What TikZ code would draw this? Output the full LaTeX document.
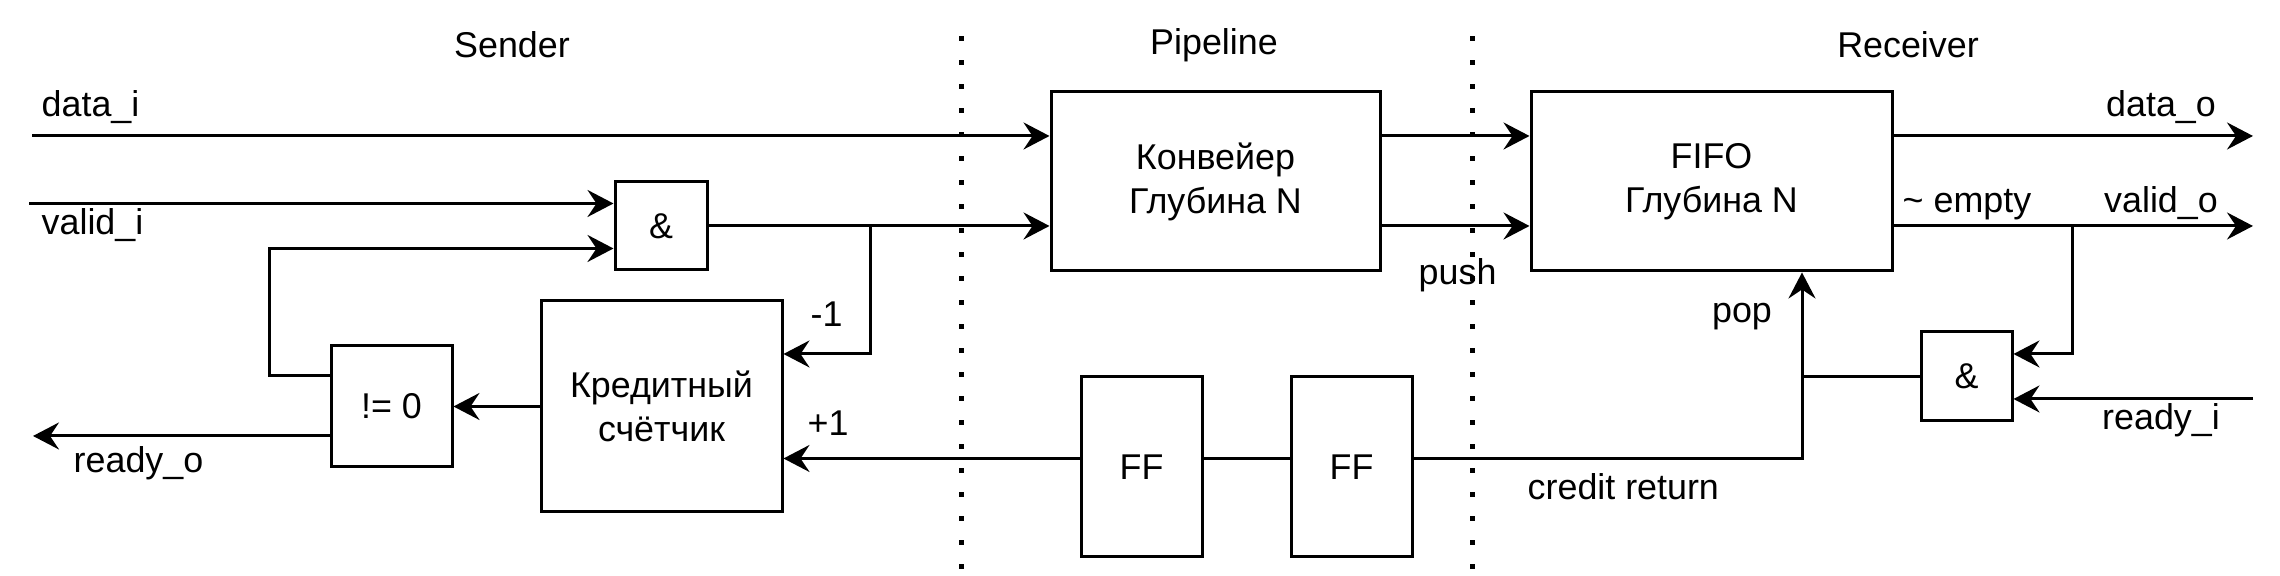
\documentclass[tikz,border=0pt]{standalone}
\usepackage{fontspec}
\setmainfont{Liberation Sans}
\usetikzlibrary{arrows.meta,positioning,calc}

\begin{document}
\begin{tikzpicture}[
  x=1mm, y=1mm,
  font=\fontsize{10.2pt}{12.5pt}\selectfont,
  blk/.style   = {draw, line width=0.3mm, align=center, inner sep=0pt},
  ln/.style    = {-{Stealth[length=2.6mm, width=2.7mm, inset=0.9mm]}, line width=0.3mm},
  wire/.style  = {line width=0.3mm},
  sep/.style   = {line width=0.5mm, dash pattern=on 0.5mm off 1.9mm},
  lbl/.style   = {inner sep=0pt},
]
\useasboundingbox (0,0) rectangle (228,57.6);

% --- the three zones ---------------------------------------------------------------------------
\coordinate (sepA) at (96.1,53.95);
\coordinate (sepB) at (147.2,53.95);
\draw[sep] (sepA) -- ++(0,-53.4);
\draw[sep] (sepB) -- ++(0,-53.4);
\node[lbl] (sender) at (51.2,53.1)  {Sender};
\node[lbl] (pipe)   at (121.4,53.1) {Pipeline};
\node[lbl] (recv)   at (190.8,53.1) {Receiver};

% --- blocks ----------------------------------------------------------------------------------------
\node[blk, minimum width=9.2mm,  minimum height=8.8mm]  (andS) at (66.1,35.0)    {\&};
\node[blk, minimum width=32.9mm, minimum height=17.9mm] (conv) at (121.55,39.45) {Конвейер\\Глубина N};
\node[blk, minimum width=36.1mm, minimum height=17.9mm] (fifo) at (171.15,39.45) {FIFO\\Глубина N};
\node[blk, minimum width=24.1mm, minimum height=21.1mm] (cnt)  at (66.15,16.95) {Кредитный\\счётчик};
\node[blk, minimum width=12.1mm, minimum height=12.1mm] (nz)   at (39.15,16.95) {!= 0};
\node[blk, minimum width=12.1mm, minimum height=18mm]   (ff1)  at (114.15,10.9) {FF};
\node[blk, minimum width=12.1mm, minimum height=18mm]   (ff2)  at (135.15,10.9) {FF};
\node[blk, minimum width=9.1mm,  minimum height=8.9mm]  (andR) at (196.65,19.95) {\&};

% --- sender side -----------------------------------------------------------------------------------
\coordinate (din)  at (3.2,44.0);
\coordinate (vin)  at (2.9,37.25);
\coordinate (rout) at (3.3,14.0);
\coordinate (dec)  at (87.0,35.0);
\draw[ln] (din) -- (din -| conv.west);
\node[lbl, anchor=base west] (datai) at (4.1,45.9) {data\_i};
\draw[ln] (vin) -- (vin -| andS.west);
\node[lbl, anchor=base west] (validi) at (4.1,34.1) {valid\_i};
\draw[ln] (andS.east) -- (andS.east -| conv.west);
\draw[ln] (dec) |- ([yshift=5.25mm]cnt.east);
\node[lbl, anchor=west] (dec1) at (81.0,26.2) {-1};
\draw[ln] (cnt.west) -- (nz.east);
\draw[ln] ([yshift=3.05mm]nz.west) -- ++(-6,0) |- ([yshift=-2.25mm]andS.west);
\draw[ln] (rout -| nz.west) -- (rout);
\node[lbl, anchor=base west] (readyo) at (7.3,10.3) {ready\_o};

% --- pipeline and fifo -----------------------------------------------------------------------------
\draw[ln] (din -| conv.east) -- (din -| fifo.west);
\draw[ln] (andS.east -| conv.east) -- (andS.east -| fifo.west);
\node[lbl, anchor=base west] (push) at (141.8,29.1) {push};

\coordinate (dout) at (225.3,44.0);
\coordinate (vout) at (225.3,35.0);
\draw[ln] (dout -| fifo.east) -- (dout);
\node[lbl, anchor=base] (datao) at (216.1,45.9) {data\_o};
\draw[ln] (vout -| fifo.east) -- (vout);
\node[lbl, anchor=base] (valido) at (216.1,36.3) {valid\_o};
\node[lbl, anchor=base west] (empty) at (190.2,36.3) {\textasciitilde{} empty};

% --- receiver handshake ----------------------------------------------------------------------------
\coordinate (vtap) at (207.2,35.0);
\coordinate (rin)  at (225.3,17.7);
\draw[ln] (vtap) |- ([yshift=2.25mm]andR.east);
\draw[ln] (rin) -- (rin -| andR.east);
\node[lbl, anchor=base] (readyi) at (216.1,14.6) {ready\_i};

% --- credit return ---------------------------------------------------------------------------------
\coordinate (cr) at (180.2,11.75);
\draw[wire] (andR.west) -- (andR.west -| cr);
\draw[ln] (ff2.east |- cr) -| (fifo.south -| cr);
\node[lbl] (pop) at (174.2,25.9) {pop};
\draw[wire] (ff2.west |- cr) -- (ff1.east |- cr);
\draw[ln] (ff1.west |- cr) -- (cnt.east |- cr);
\node[lbl, anchor=west] (inc1) at (80.7,15.3) {+1};
\node[lbl, anchor=base west] (credit) at (152.7,7.6) {credit return};

\end{tikzpicture}
\end{document}
